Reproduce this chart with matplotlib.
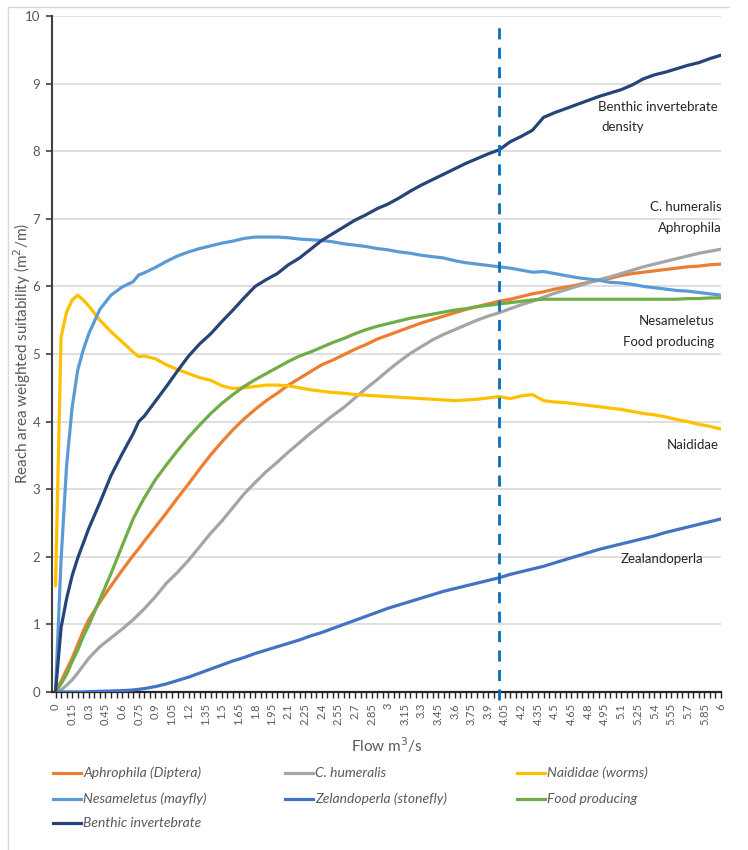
import matplotlib
matplotlib.use("Agg")
import matplotlib.pyplot as plt
from matplotlib.lines import Line2D

W, H = 748, 850

# Flow categories (m3/s)
flow = [0, 0.05, 0.1, 0.15, 0.2, 0.25, 0.3, 0.4, 0.5, 0.6, 0.7, 0.75, 0.8, 0.9,
        1.0, 1.1, 1.2, 1.3, 1.4, 1.5, 1.6, 1.7, 1.8, 1.9,
        2.0, 2.1, 2.2, 2.3, 2.4, 2.5, 2.6, 2.7, 2.8, 2.9,
        3.0, 3.1, 3.2, 3.3, 3.4, 3.5, 3.6, 3.7, 3.8, 3.9,
        4.0, 4.1, 4.2, 4.3, 4.4, 4.5, 4.6, 4.7, 4.8, 4.9,
        5.0, 5.1, 5.2, 5.3, 5.4, 5.5, 5.6, 5.7, 5.8, 5.9, 6.0]

aphrophila = [0, 0.16, 0.33, 0.50, 0.70, 0.90, 1.07, 1.33, 1.57, 1.80, 2.02, 2.12, 2.23, 2.44,
              2.65, 2.87, 3.08, 3.30, 3.51, 3.70, 3.88, 4.04, 4.18, 4.31,
              4.42, 4.54, 4.64, 4.74, 4.84, 4.91, 4.99, 5.07, 5.14, 5.22,
              5.28, 5.34, 5.40, 5.46, 5.51, 5.56, 5.61, 5.66, 5.70, 5.74,
              5.78, 5.81, 5.85, 5.89, 5.92, 5.96, 5.99, 6.02, 6.06, 6.09,
              6.12, 6.16, 6.19, 6.21, 6.23, 6.25, 6.27, 6.29, 6.30, 6.32, 6.33]

c_humeralis = [0, 0.03, 0.10, 0.18, 0.28, 0.39, 0.50, 0.67, 0.80, 0.93, 1.07, 1.15, 1.23, 1.41,
               1.61, 1.77, 1.95, 2.15, 2.35, 2.53, 2.73, 2.93, 3.10, 3.26,
               3.40, 3.55, 3.69, 3.83, 3.96, 4.09, 4.21, 4.35, 4.49, 4.62,
               4.76, 4.89, 5.01, 5.11, 5.21, 5.29, 5.36, 5.43, 5.50, 5.56,
               5.61, 5.67, 5.73, 5.78, 5.84, 5.90, 5.95, 6.00, 6.05, 6.10,
               6.14, 6.19, 6.24, 6.29, 6.33, 6.37, 6.41, 6.45, 6.49, 6.52, 6.55]

naididae = [1.57, 5.25, 5.62, 5.80, 5.87, 5.80, 5.71, 5.50, 5.33, 5.18, 5.03, 4.96, 4.97, 4.93,
            4.84, 4.77, 4.71, 4.65, 4.61, 4.53, 4.49, 4.50, 4.52, 4.54,
            4.54, 4.53, 4.50, 4.47, 4.45, 4.43, 4.42, 4.40, 4.39, 4.38,
            4.37, 4.36, 4.35, 4.34, 4.33, 4.32, 4.31, 4.32, 4.33, 4.35,
            4.37, 4.34, 4.38, 4.40, 4.31, 4.29, 4.28, 4.26, 4.24, 4.22,
            4.20, 4.18, 4.15, 4.12, 4.10, 4.07, 4.03, 4.00, 3.96, 3.93, 3.89]

nesameletus = [0, 1.95, 3.35, 4.21, 4.76, 5.06, 5.30, 5.66, 5.87, 5.99, 6.07, 6.17, 6.20, 6.28,
               6.37, 6.45, 6.51, 6.56, 6.60, 6.64, 6.67, 6.71, 6.73, 6.73,
               6.73, 6.72, 6.70, 6.69, 6.68, 6.66, 6.63, 6.61, 6.59, 6.56,
               6.54, 6.51, 6.49, 6.46, 6.44, 6.42, 6.38, 6.35, 6.33, 6.31,
               6.29, 6.27, 6.24, 6.21, 6.22, 6.19, 6.16, 6.13, 6.11, 6.09,
               6.06, 6.05, 6.03, 6.00, 5.98, 5.96, 5.94, 5.93, 5.91, 5.89, 5.87]

zelandoperla = [0, 0, 0, 0, 0, 0, 0.005, 0.01, 0.015, 0.02, 0.03, 0.04, 0.05, 0.08,
                0.12, 0.17, 0.22, 0.28, 0.34, 0.40, 0.46, 0.51, 0.57, 0.62,
                0.67, 0.72, 0.77, 0.83, 0.88, 0.94, 1.00, 1.06, 1.12, 1.18,
                1.24, 1.29, 1.34, 1.39, 1.44, 1.49, 1.53, 1.57, 1.61, 1.65,
                1.69, 1.74, 1.78, 1.82, 1.86, 1.91, 1.96, 2.01, 2.06, 2.11,
                2.15, 2.19, 2.23, 2.27, 2.31, 2.36, 2.40, 2.44, 2.48, 2.52, 2.56]

food_producing = [0, 0.12, 0.26, 0.45, 0.62, 0.82, 0.99, 1.37, 1.75, 2.16, 2.56, 2.72, 2.87, 3.14,
                  3.36, 3.57, 3.77, 3.95, 4.12, 4.27, 4.40, 4.52, 4.62, 4.71,
                  4.80, 4.89, 4.97, 5.03, 5.10, 5.17, 5.23, 5.30, 5.36, 5.41,
                  5.45, 5.49, 5.53, 5.56, 5.59, 5.62, 5.65, 5.67, 5.70, 5.72,
                  5.74, 5.76, 5.78, 5.80, 5.81, 5.81, 5.81, 5.81, 5.81, 5.81,
                  5.81, 5.81, 5.81, 5.81, 5.81, 5.81, 5.81, 5.82, 5.82, 5.83, 5.83]

benthic = [0, 0.95, 1.38, 1.72, 1.98, 2.20, 2.42, 2.80, 3.20, 3.52, 3.82, 4.00, 4.08, 4.30,
           4.52, 4.75, 4.97, 5.15, 5.30, 5.48, 5.65, 5.83, 6.00, 6.10,
           6.19, 6.32, 6.42, 6.55, 6.68, 6.78, 6.88, 6.98, 7.06, 7.15,
           7.22, 7.31, 7.41, 7.50, 7.58, 7.66, 7.74, 7.82, 7.89, 7.96,
           8.02, 8.14, 8.22, 8.31, 8.50, 8.57, 8.63, 8.69, 8.75, 8.81,
           8.86, 8.91, 8.98, 9.07, 9.13, 9.17, 9.22, 9.27, 9.31, 9.37, 9.42]

# Category axis: a tick every 0.05, a label every 0.15
tick_positions = [i * 0.05 for i in range(121)]
tick_labels = ["0", "0.15", "0.3", "0.45", "0.6", "0.75", "0.9", "1.05", "1.2", "1.35",
               "1.5", "1.65", "1.8", "1.95", "2.1", "2.25", "2.4", "2.55", "2.7", "2.85",
               "3", "3.15", "3.3", "3.45", "3.6", "3.75", "3.9", "4.05", "4.2", "4.35",
               "4.5", "4.65", "4.8", "4.95", "5.1", "5.25", "5.4", "5.55", "5.7", "5.85", "6"]
reference_flow = 4.0

series = [
    ("Aphrophila (Diptera)", aphrophila, "#ED7D31"),
    ("C. humeralis", c_humeralis, "#A5A5A5"),
    ("Naididae (worms)", naididae, "#FFC000"),
    ("Nesameletus (mayfly)", nesameletus, "#5B9BD5"),
    ("Zelandoperla (stonefly)", zelandoperla, "#4472C4"),
    ("Food producing", food_producing, "#70AD47"),
    ("Benthic invertebrate", benthic, "#264478"),
]

plt.rcParams["font.family"] = ["Lato", "DejaVu Sans"]
GREY = "#595959"

fig = plt.figure(figsize=(W / 100, H / 100), dpi=100)


def fx(px):
    return px / W


def fy(py):
    return 1 - py / H


# chart frame
fig.add_artist(Line2D([fx(8), fx(8)], [fy(7), 0], color="#D9D9D9", lw=1.0))
fig.add_artist(Line2D([fx(8), fx(729)], [fy(7), fy(7)], color="#D9D9D9", lw=1.0))

ax = fig.add_axes([fx(52), fy(692), (721 - 52) / W, (692 - 16) / H])
ax.set_xlim(-0.0316, 6.0)
ax.set_ylim(0, 10)

for name, vals, col in series:
    ax.plot(flow, vals, color=col, lw=2.3, solid_capstyle="round", solid_joinstyle="round", zorder=3)

ax.plot([reference_flow, reference_flow], [-0.12, 9.87], color="#0070C0", lw=2.0,
        linestyle=(0, (4, 3)), clip_on=False, zorder=4)

ax.set_yticks(range(0, 11))
ax.yaxis.grid(True, color="#D9D9D9", lw=1.2)
ax.set_axisbelow(True)
ax.tick_params(axis="y", length=4, width=1.2, color="#404040", pad=4.5, labelsize=9.5, labelcolor=GREY)

ax.set_xticks(tick_positions)
ax.set_xticklabels([tick_labels[i // 3] if i % 3 == 0 else "" for i in range(len(tick_positions))],
                   rotation=90)
ax.tick_params(axis="x", length=4, width=1.0, color="#262626", pad=4, labelsize=8, labelcolor=GREY)

for s in ("top", "right"):
    ax.spines[s].set_visible(False)
ax.spines["left"].set_color("#404040")
ax.spines["left"].set_linewidth(1.5)
ax.spines["bottom"].set_color("#262626")
ax.spines["bottom"].set_linewidth(1.6)

fig.text(fx(22), fy(354), "Reach area weighted suitability (m$^2$/m)", rotation=90,
         ha="center", va="center", fontsize=11, color=GREY)
fig.text(fx(387), fy(745), "Flow m$^3$/s", ha="center", va="center", fontsize=11, color=GREY)

# curve labels
lab = dict(fontsize=9.5, color="#262626", va="center")
fig.text(fx(598), fy(107), "Benthic invertebrate", ha="left", **lab)
fig.text(fx(601), fy(127), "density", ha="left", **lab)
fig.text(fx(722), fy(207), "C. humeralis", ha="right", **lab)
fig.text(fx(722), fy(228), "Aphrophila", ha="right", **lab)
fig.text(fx(714), fy(321), "Nesameletus", ha="right", **lab)
fig.text(fx(714), fy(342), "Food producing", ha="right", **lab)
fig.text(fx(719), fy(445), "Naididae", ha="right", **lab)
fig.text(fx(703), fy(559), "Zealandoperla", ha="right", **lab)

# legend
col_x = [53, 285, 517]
row_y = [773, 799, 823]
for k, (name, vals, col) in enumerate(series):
    r, c = divmod(k, 3)
    x0, y0 = col_x[c], row_y[r]
    fig.add_artist(Line2D([fx(x0), fx(x0 + 28)], [fy(y0), fy(y0)], color=col, lw=2.3))
    fig.text(fx(x0 + 30), fy(y0), name, ha="left", va="center", fontsize=10,
             style="italic", color=GREY)

fig.savefig("out.png", dpi=100)
